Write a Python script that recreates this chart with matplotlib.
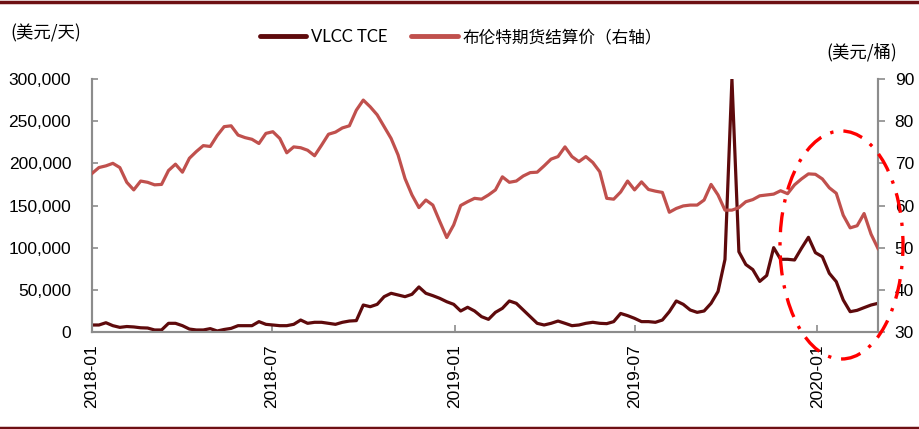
import matplotlib
matplotlib.use('Agg')
import matplotlib.pyplot as plt
from matplotlib.patches import Ellipse
from matplotlib.lines import Line2D
from matplotlib.ticker import FuncFormatter
import pandas as pd

plt.rcParams['font.family'] = ['Liberation Sans', 'Noto Sans CJK SC', 'DejaVu Sans']

# ---------------- data (weekly) ----------------
start_date = '2018-01-01'

vlcc_tce = [
    8300, 8300, 11000, 7500, 5500, 6500, 6000, 5000, 4700, 2400,
    2400, 10300, 10300, 7500, 3500, 2400, 2400, 4000, 1200, 3000,
    4300, 7500, 7500, 7500, 12300, 9100, 8300, 7500, 7500, 9100,
    14200, 10300, 11500, 11500, 10300, 9100, 11500, 13000, 13500, 32000,
    30000, 32800, 41900, 45900, 43900, 41900, 44700, 53400, 45900, 43100,
    39900, 35900, 32800, 24900, 29300, 24900, 18200, 15000, 23300, 28100,
    36800, 34000, 26100, 18200, 10300, 8300, 10300, 13000, 10300, 7500,
    8300, 10300, 11500, 10300, 9900, 12300, 22000, 19400, 16200, 12300,
    12300, 11500, 14200, 24100, 36800, 32800, 26100, 23300, 24900, 34000,
    48000, 86000, 300000, 95200, 80000, 74000, 60000, 67000, 100000, 86200,
    86200, 85400, 99300, 112300, 94100, 89300, 69600, 59700, 38000, 24100,
    25700, 28900, 32000, 34000,
]

brent = [
    67.6, 69.0, 69.4, 70.0, 69.0, 65.5, 63.7, 65.8, 65.5, 64.9,
    65.0, 68.3, 69.8, 67.9, 71.2, 72.8, 74.2, 74.0, 76.6, 78.7,
    78.9, 76.7, 76.1, 75.7, 74.7, 77.1, 77.5, 75.9, 72.5, 73.9,
    73.7, 73.1, 71.8, 74.3, 76.9, 77.4, 78.4, 78.9, 82.6, 85.0,
    83.4, 81.5, 78.7, 75.9, 72.0, 66.4, 62.5, 59.5, 61.3, 60.1,
    56.2, 52.4, 55.4, 60.0, 60.9, 61.7, 61.5, 62.5, 63.7, 66.8,
    65.5, 65.8, 67.0, 67.8, 67.9, 69.4, 71.0, 71.6, 73.9, 71.6,
    70.4, 71.6, 70.2, 68.0, 61.7, 61.5, 63.2, 65.8, 63.7, 65.6,
    63.8, 63.4, 63.1, 58.4, 59.3, 59.9, 60.1, 60.1, 61.3, 65.0,
    62.5, 58.9, 58.9, 59.5, 60.9, 61.4, 62.3, 62.5, 62.7, 63.5,
    62.8, 64.9, 66.3, 67.5, 67.4, 66.3, 64.2, 62.9, 57.7, 54.7,
    55.2, 58.1, 53.2, 49.8,
]

xtick_dates = ['2018-01-01', '2018-07-01', '2019-01-01', '2019-07-01', '2020-01-01']
xtick_labels = ['2018-01', '2018-07', '2019-01', '2019-07', '2020-01']
left_ticks = [0, 50000, 100000, 150000, 200000, 250000, 300000]
right_ticks = [30, 40, 50, 60, 70, 80, 90]

series_names = ['VLCC TCE', '布伦特期货结算价（右轴）']
left_unit = '(美元/天)'
right_unit = '(美元/桶)'

dates = pd.date_range(start_date, periods=len(vlcc_tce), freq='7D')

# ---------------- styling ----------------
VLCC_C = '#5E0A0C'
BRENT_C = '#C0504D'
AX_C = '#8C8C8C'
FRAME_C = '#6E1014'

W, H = 919, 429
fig = plt.figure(figsize=(W / 100, H / 100), dpi=100)
ax = fig.add_axes([92 / W, 1 - 332 / H, (878 - 92) / W, (332 - 79) / H])
ax2 = ax.twinx()

ax.plot(dates, vlcc_tce, color=VLCC_C, lw=2.3, solid_joinstyle='round', zorder=3)
ax2.plot(dates, brent, color=BRENT_C, lw=2.3, solid_joinstyle='round', zorder=3)

ax.set_xlim(dates[0], dates[-1])
ax.set_ylim(0, 300000)
ax2.set_ylim(30, 90)

ax.set_yticks(left_ticks)
ax.yaxis.set_major_formatter(FuncFormatter(lambda v, p: f'{int(v):,}'))
ax2.set_yticks(right_ticks)
ax.set_xticks(pd.to_datetime(xtick_dates))
ax.set_xticklabels(xtick_labels, rotation=90)

for a in (ax, ax2):
    a.spines['top'].set_visible(False)
    for s in ('left', 'right', 'bottom'):
        a.spines[s].set_color(AX_C)
        a.spines[s].set_linewidth(1.5)

ax.tick_params(axis='y', direction='in', length=4, width=1.2, color=AX_C, pad=15, labelsize=12.5)
ax.tick_params(axis='x', direction='in', length=5, width=1.2, color=AX_C, pad=9, labelsize=12.5)
ax2.tick_params(axis='y', direction='out', length=5, width=1.2, color=AX_C, pad=7, labelsize=12.5)

# unit labels
fig.text(10 / W, 1 - 33 / H, left_unit, ha='left', va='center', fontsize=12.5,
         family=['Noto Sans CJK SC', 'DejaVu Sans'])
fig.text(826 / W, 1 - 52 / H, right_unit, ha='left', va='center', fontsize=12.5,
         family=['Noto Sans CJK SC', 'DejaVu Sans'])

# legend
handles = [Line2D([], [], color=VLCC_C, lw=3.5, solid_capstyle='round'),
           Line2D([], [], color=BRENT_C, lw=3.5, solid_capstyle='round')]
fig.legend(handles, series_names, loc='center', bbox_to_anchor=(461 / W, 1 - 37 / H),
           ncol=2, frameon=False, handlelength=2.8, handletextpad=0.3, columnspacing=1.4,
           prop={'family': ['Lato', 'Noto Sans CJK SC', 'DejaVu Sans'], 'size': 12})

# highlight ellipse
ell = Ellipse((841.5 / W, 1 - 245 / H), 123 / W, 228 / H, transform=fig.transFigure,
              fill=False, edgecolor='#FF0000', lw=2.4, linestyle=(0, (6, 3, 1, 3)), zorder=10)
fig.add_artist(ell)

# top and bottom frame lines
fig.add_artist(Line2D([0, 1], [1 - 2 / H, 1 - 2 / H], transform=fig.transFigure, color=FRAME_C, lw=2.5))
fig.add_artist(Line2D([0, 1], [1.5 / H, 1.5 / H], transform=fig.transFigure, color=FRAME_C, lw=2.5))

fig.savefig('out.png', dpi=100)
